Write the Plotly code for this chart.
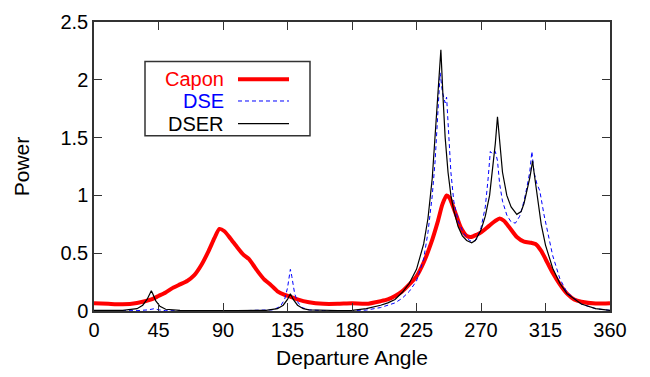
import plotly.graph_objects as go

# ---- data ----
capon_x = [0, 10, 20, 30, 40, 45, 50, 55, 60, 65, 70, 75, 80, 84, 87.5, 91, 95, 100, 104, 108, 111, 115, 119,
           123, 128, 133, 137, 142, 150, 160, 170, 180, 190, 200, 205, 210, 215, 220, 225, 230, 235, 240, 243,
           246, 248, 250, 253, 256, 260, 263, 267, 270, 275, 280, 283, 286, 290, 295, 300, 305, 308, 312, 315,
           320, 325, 330, 335, 340, 350, 360]
capon_y = [0.067, 0.062, 0.058, 0.07, 0.10, 0.13, 0.16, 0.20, 0.23, 0.26, 0.31, 0.40, 0.52, 0.63, 0.71, 0.69,
           0.63, 0.55, 0.49, 0.45, 0.40, 0.33, 0.27, 0.23, 0.17, 0.14, 0.125, 0.10, 0.075, 0.062, 0.062, 0.067,
           0.062, 0.085, 0.10, 0.13, 0.17, 0.23, 0.30, 0.42, 0.58, 0.78, 0.92, 1.0, 0.98, 0.92, 0.82, 0.72, 0.65,
           0.64, 0.66, 0.68, 0.73, 0.78, 0.80, 0.78, 0.72, 0.64, 0.60, 0.59, 0.58, 0.52, 0.45, 0.33, 0.23, 0.15,
           0.10, 0.08, 0.065, 0.068]

dse_x = [0, 30, 38, 42, 45, 50, 100, 125, 130, 133, 135, 136, 137, 138, 140, 142, 145, 150, 160, 180, 190, 200,
         210, 215, 220, 225, 230, 233, 236, 238, 240, 241.5, 243, 245, 246, 247, 249, 251, 254, 258, 262, 264,
         267, 270, 273, 275, 276.5, 278, 280, 281.5, 283, 285, 288, 291, 294, 297, 300, 302, 304, 305.5, 307,
         309, 311, 314, 317, 320, 325, 330, 340, 350, 360]
dse_y = [0.002, 0.003, 0.01, 0.02, 0.01, 0.003, 0.002, 0.01, 0.04, 0.10, 0.20, 0.30, 0.36, 0.30, 0.15, 0.08,
         0.03, 0.01, 0.003, 0.003, 0.008, 0.03, 0.07, 0.11, 0.17, 0.26, 0.45, 0.68, 1.0, 1.3, 1.75, 2.06, 1.9,
         1.8, 1.85, 1.6, 1.2, 0.95, 0.78, 0.67, 0.61, 0.60, 0.62, 0.72, 0.90, 1.15, 1.38, 1.36, 1.38, 1.3, 1.1,
         0.95, 0.83, 0.77, 0.76, 0.82, 0.95, 1.07, 1.2, 1.38, 1.2, 1.1, 1.04, 0.83, 0.65, 0.48, 0.28, 0.16,
         0.06, 0.02, 0.005]

dser_x = [0, 10, 20, 30, 34, 37, 39, 40, 41, 43, 46, 50, 60, 80, 100, 120, 128, 132, 135, 137, 139, 142, 146,
          150, 160, 170, 180, 190, 200, 205, 210, 215, 220, 225, 230, 233, 236, 238, 240, 242, 243.5, 245, 247,
          249, 251, 254, 257, 260, 263.5, 266, 270, 273, 276, 278, 280, 281.5, 283, 285, 288, 291, 295, 298,
          300, 302, 304, 305, 306, 307, 309, 312, 315, 320, 325, 330, 340, 350, 360]
dser_y = [0.005, 0.005, 0.006, 0.02, 0.05, 0.10, 0.15, 0.175, 0.15, 0.09, 0.04, 0.015, 0.005, 0.003, 0.003,
          0.006, 0.02, 0.05, 0.10, 0.15, 0.10, 0.05, 0.02, 0.01, 0.005, 0.004, 0.006, 0.02, 0.05, 0.07, 0.10,
          0.16, 0.24, 0.36, 0.58, 0.80, 1.15, 1.5, 1.85, 2.26, 1.85, 1.5, 1.2, 1.0, 0.87, 0.73, 0.65, 0.61, 0.59,
          0.61, 0.70, 0.82, 1.0, 1.2, 1.45, 1.68, 1.45, 1.2, 1.0, 0.9, 0.836, 0.86, 0.93, 1.03, 1.15, 1.22, 1.30,
          1.2, 1.0, 0.75, 0.57, 0.37, 0.24, 0.15, 0.06, 0.02, 0.005]

x_ticks = [0, 45, 90, 135, 180, 225, 270, 315, 360]
y_ticks = [0, 0.5, 1, 1.5, 2, 2.5]
y_tick_text = ["0", "0.5", "1", "1.5", "2", "2.5"]

legend_names = ["Capon", "DSE", "DSER"]
legend_colors = ["#ff0000", "#0000ff", "#000000"]

FONT = "Liberation Sans, Arial, sans-serif"

fig = go.Figure()
fig.add_trace(go.Scatter(x=capon_x, y=capon_y, mode="lines", name="Capon",
                         line=dict(color="#ff0000", width=4, shape="spline", smoothing=0.6)))
fig.add_trace(go.Scatter(x=dse_x, y=dse_y, mode="lines", name="DSE",
                         line=dict(color="#0000ff", width=1, dash="4px,3px")))
fig.add_trace(go.Scatter(x=dser_x, y=dser_y, mode="lines", name="DSER",
                         line=dict(color="#000000", width=1.2)))

# custom legend (text right-aligned, sample to the right)
W, H = 516.0, 300.0
def px(xp):
    return (xp - 94) / W
def py(yp):
    return (311 - yp) / H

fig.add_shape(type="rect", xref="paper", yref="paper", x0=px(145), x1=px(310), y0=py(129), y1=py(52),
              line=dict(color="#333333", width=1.5), fillcolor="white", layer="above")
rows = [70.5, 93, 116.5]
styles = [dict(color="#ff0000", width=4), dict(color="#0000ff", width=1, dash="4px,3px"),
          dict(color="#000000", width=1.2)]
for name, col, ry, st in zip(legend_names, legend_colors, rows, styles):
    fig.add_annotation(x=px(226), y=py(ry), xref="paper", yref="paper", text=name, showarrow=False,
                       xanchor="right", yanchor="middle", font=dict(family=FONT, size=20, color=col))
    fig.add_shape(type="line", xref="paper", yref="paper", x0=px(238), x1=px(289), y0=py(ry), y1=py(ry),
                  line=st, layer="above")

TITLE_FONT = dict(family=FONT, size=21, color="black")
TICK_FONT = dict(family=FONT, size=20, color="black")

fig.update_layout(
    width=650, height=377,
    margin=dict(l=94, r=40, t=11, b=66),
    paper_bgcolor="white", plot_bgcolor="white",
    showlegend=False,
    font=dict(family=FONT, size=20, color="black"),
)
fig.update_xaxes(range=[0, 360], tickvals=x_ticks, ticks="inside", ticklen=8, tickcolor="#333333",
                 showline=True, linecolor="#333333", linewidth=1.5, mirror="ticks", showgrid=False,
                 zeroline=False, tickfont=TICK_FONT)
fig.update_yaxes(range=[0, 2.5], tickvals=y_ticks, ticktext=y_tick_text, ticks="inside", ticklen=8,
                 tickcolor="#333333", showline=True, linecolor="#333333", linewidth=1.5, mirror="ticks",
                 showgrid=False, zeroline=False, tickfont=TICK_FONT)
fig.update_layout(
    xaxis_title_text="Departure Angle", xaxis_title_font=TITLE_FONT, xaxis_title_standoff=11,
    yaxis_title_text="Power", yaxis_title_font=TITLE_FONT, yaxis_title_standoff=25,
)

fig.write_html("out.html")
